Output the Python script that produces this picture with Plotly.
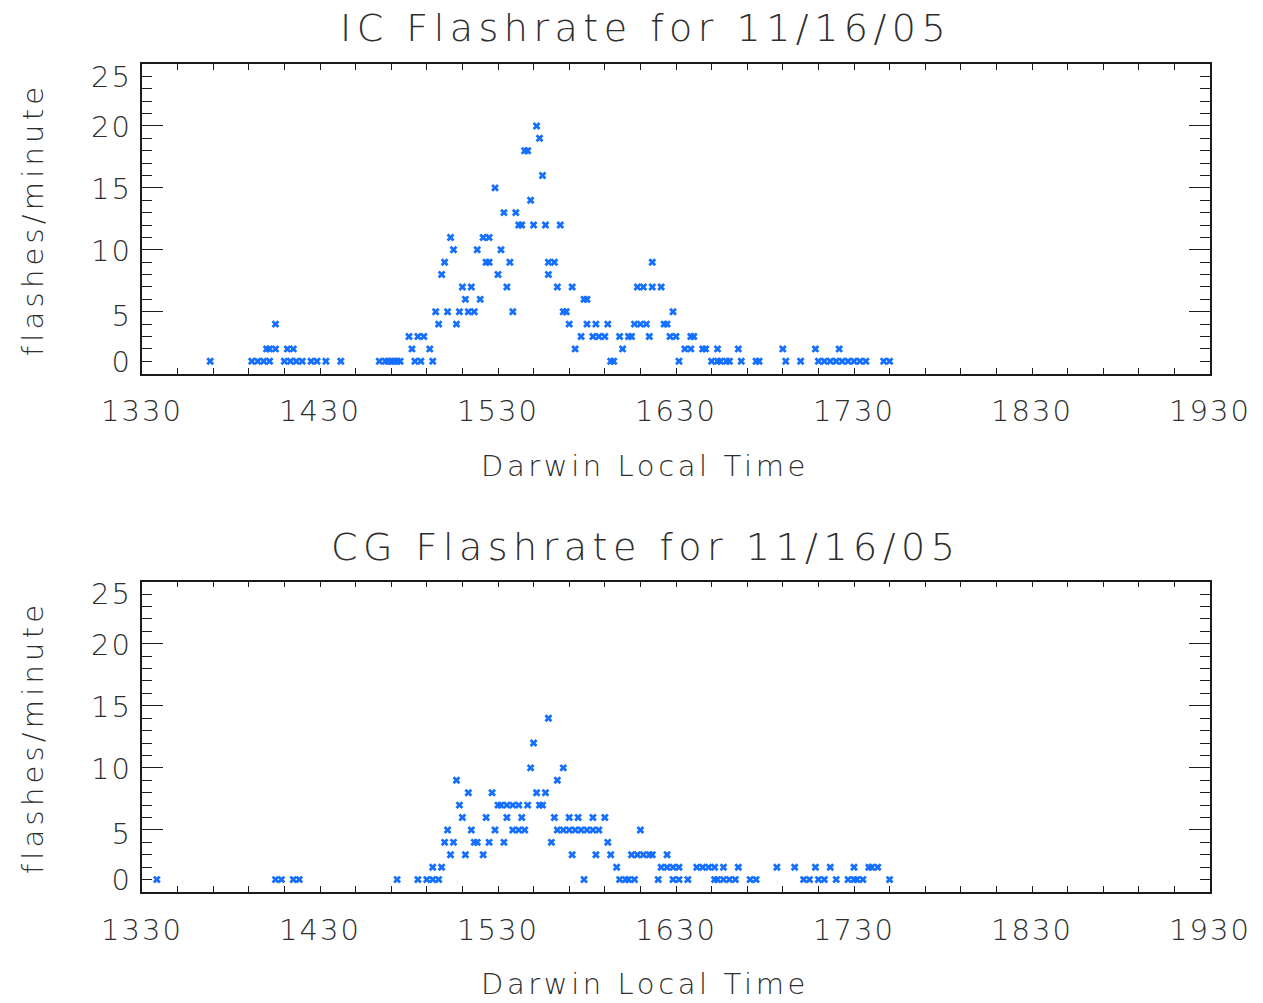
import plotly.graph_objects as go
from plotly.subplots import make_subplots

# Minutes after 13:30 Darwin local time, and flashes per minute
ic_minutes = [23, 37, 39, 41, 43, 48, 50, 52, 54, 57, 59, 62, 67, 80, 82, 83, 84, 85, 86, 87, 92, 94, 98,
              158, 159, 181, 192, 194, 195, 197, 198, 202, 207, 208, 217, 222, 228, 230, 232, 234, 236,
              238, 240, 242, 244, 250, 252,
              42, 43, 45, 49, 51, 91, 97, 146, 162, 183, 185, 189, 190, 194, 201, 216, 227, 235,
              90, 93, 95, 148, 152, 154, 156, 161, 164, 165, 171, 178, 180, 185, 186,
              45, 100, 106, 144, 150, 153, 157, 166, 168, 170, 176, 177,
              99, 103, 107, 110, 112, 125, 142, 143, 179,
              109, 114, 149, 150,
              108, 111, 123, 140, 145, 167, 169, 172, 175,
              101, 120, 137,
              102, 116, 117, 124, 137, 139, 172,
              105, 113, 121,
              104, 115, 117,
              127, 128, 132, 136, 141,
              122, 126,
              131,
              119,
              135,
              129, 130,
              134,
              133]
ic_rate = [1] * 47 + [2] * 18 + [3] * 15 + [4] * 12 + [5] * 9 + [6] * 4 + [7] * 9 + [8] * 3 + \
          [9] * 7 + [10] * 3 + [11] * 3 + [12] * 5 + [13] * 2 + [14] + [15] + [16] + [18] * 2 + [19] + [20]

cg_minutes = [5, 45, 47, 51, 53, 86, 93, 96, 98, 100, 149, 161, 163, 164, 166, 174, 179, 181, 184,
              193, 194, 196, 198, 200, 205, 207, 223, 225, 228, 230, 234, 238, 240, 241, 243, 252,
              98, 101, 160, 175, 177, 179, 181, 187, 189, 191, 193, 196, 201, 214, 220, 227, 232,
              240, 245, 246, 248,
              104, 109, 115, 145, 153, 158, 165, 167, 169, 171, 172, 177,
              102, 105, 112, 113, 117, 122, 138, 157,
              103, 111, 119, 125, 127, 129, 140, 142, 144, 146, 148, 150, 152, 154, 168,
              108, 116, 123, 128, 139, 144, 147, 152, 156,
              107, 120, 121, 123, 125, 127, 130, 134, 135,
              110, 118, 133, 136,
              106, 140,
              131, 142,
              132,
              137]
cg_rate = [1] * 36 + [2] * 21 + [3] * 12 + [4] * 8 + [5] * 15 + [6] * 9 + [7] * 9 + [8] * 4 + \
          [9] * 2 + [10] * 2 + [12] + [14]

tick_minutes = [0, 60, 120, 180, 240, 300, 360]
tick_labels = ["1330", "1430", "1530", "1630", "1730", "1830", "1930"]
y_ticks = [0, 5, 10, 15, 20, 25]
y_tick_labels = ["0", "5", "10", "15", "20", "25"]
# label anchor positions as drawn by the original plot (end labels pulled inside the frame)
y_label_pos = [0.94, 4.7, 9.9, 14.9, 19.9, 24.0]
titles = ["IC Flashrate for 11/16/05", "CG Flashrate for 11/16/05"]
x_title = "Darwin Local Time"
y_title = "flashes/minute"

FONT = "DejaVu Sans"
TXT = "#2e2e2e"
BLUE = "#1670ff"
W = 300
AX = "#1a1a1a"


def spaced(text, px):
    return '<span style="letter-spacing:%.1fpx">%s</span>' % (px, text)


fig = make_subplots(rows=2, cols=1, vertical_spacing=0.0)

for r, (xs, ys) in enumerate([(ic_minutes, ic_rate), (cg_minutes, cg_rate)], start=1):
    fig.add_trace(go.Scatter(x=xs, y=ys, mode="markers",
                             marker=dict(symbol="x", size=7, color=BLUE, line=dict(width=0)),
                             showlegend=False, hoverinfo="x+y"), row=r, col=1)

# empty traces so the label-only overlay axes are drawn
fig.add_trace(go.Scatter(x=[], y=[], xaxis="x", yaxis="y3", showlegend=False, hoverinfo="skip"))
fig.add_trace(go.Scatter(x=[], y=[], xaxis="x2", yaxis="y4", showlegend=False, hoverinfo="skip"))

axis_common = dict(showgrid=False, zeroline=False, showline=True, linecolor=AX, linewidth=1.6,
                   mirror="allticks", ticks="inside", tickcolor=AX, tickwidth=1.3,
                   tickfont=dict(family=FONT, size=29, color=TXT, weight=W))

fig.update_xaxes(range=[0, 360], tickmode="array", tickvals=tick_minutes,
                 ticktext=[spaced(t, 2.0) for t in tick_labels],
                 ticklen=6, ticklabelstandoff=11,
                 minor=dict(tickmode="linear", tick0=0, dtick=12, ticks="inside", ticklen=3,
                            tickcolor=AX, tickwidth=1.3),
                 **axis_common)
fig.update_yaxes(range=[0, 25], tickmode="array", tickvals=y_ticks, showticklabels=False,
                 ticklen=21,
                 minor=dict(tickmode="linear", tick0=0, dtick=1, ticks="inside", ticklen=10,
                            tickcolor=AX, tickwidth=1.3),
                 **axis_common)

label_axis = dict(range=[0, 25], tickmode="array", tickvals=y_label_pos,
                  ticktext=[spaced(t, 2.0) for t in y_tick_labels], ticks="", showline=False,
                  showgrid=False, zeroline=False, ticklabelstandoff=9, side="left",
                  tickfont=dict(family=FONT, size=29, color=TXT, weight=W))

fig.update_layout(
    width=1263, height=1003,
    margin=dict(l=142, r=53, t=64, b=111),
    paper_bgcolor="white", plot_bgcolor="white",
    font=dict(family=FONT, color=TXT),
    xaxis=dict(domain=[0, 1]), yaxis=dict(domain=[0.626, 1.0]),
    xaxis2=dict(domain=[0, 1]), yaxis2=dict(domain=[0.0, 0.3748]),
    yaxis3=dict(overlaying="y", anchor="x", **label_axis),
    yaxis4=dict(overlaying="y2", anchor="x2", **label_axis),
)

ann = []
for title, ty in zip(titles, [1.0435, 0.4167]):
    ann.append(dict(text=spaced(title, 5.5), x=0.471, y=ty, xref="paper", yref="paper", showarrow=False,
                    xanchor="center", yanchor="middle",
                    font=dict(family=FONT, size=38, color=TXT, weight=W)))
for ty in [0.5145, -0.111]:
    ann.append(dict(text=spaced(x_title, 3.6), x=0.471, y=ty, xref="paper", yref="paper", showarrow=False,
                    xanchor="center", yanchor="middle",
                    font=dict(family=FONT, size=29, color=TXT, weight=W)))
for ty in [0.8116, 0.186]:
    ann.append(dict(text=spaced(y_title, 4.2), x=-0.102, y=ty, xref="paper", yref="paper", showarrow=False,
                    textangle=-90, xanchor="center", yanchor="middle",
                    font=dict(family=FONT, size=29, color=TXT, weight=W)))
fig.update_layout(annotations=ann)

fig.write_html("out.html")
